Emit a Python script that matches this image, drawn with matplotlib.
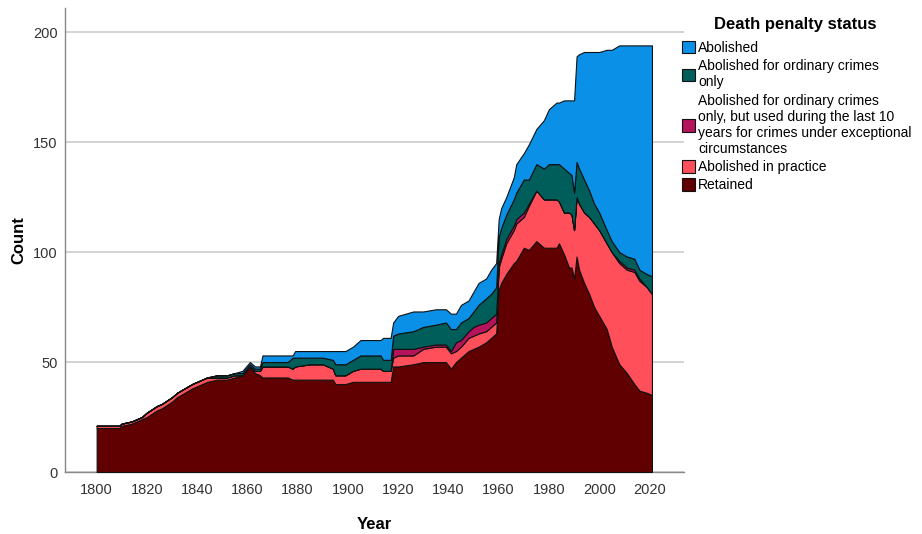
"""Stacked area chart: number of countries by death penalty status, 1800-2021."""
import matplotlib.pyplot as plt
from matplotlib.patches import Patch

plt.rcParams["font.family"] = ["Liberation Sans", "DejaVu Sans"]

years = [1800, 1809, 1810, 1814, 1818, 1820, 1824, 1826, 1830, 1832, 1838, 1840,
         1844, 1848, 1852, 1855, 1858, 1861, 1863, 1865, 1866, 1876, 1878, 1879,
         1885, 1890, 1894, 1895, 1899, 1902, 1905, 1913, 1914, 1917, 1918, 1920,
         1926, 1930, 1935, 1939, 1941, 1943, 1945, 1948, 1950, 1952, 1955, 1957,
         1959, 1960, 1961, 1963, 1966, 1967, 1970, 1972, 1975, 1978, 1980, 1983,
         1984, 1986, 1988, 1989, 1990, 1991, 1992, 1994, 1996, 1998, 2000, 2003,
         2005, 2008, 2011, 2014, 2016, 2019, 2021]

retained = [20, 20, 21, 22, 24, 25, 28, 29, 32, 34, 38, 39,
            41, 42, 42, 43, 44, 48, 45, 44, 43, 43, 42, 42,
            42, 42, 42, 40, 40, 41, 41, 41, 41, 41, 48, 48,
            49, 50, 50, 50, 47, 50, 52, 55, 56, 57, 59, 61,
            63, 83, 86, 90, 95, 96, 102, 101, 105, 102, 102, 102,
            104, 99, 93, 93, 88, 98, 92, 86, 81, 75, 71, 65,
            57, 49, 45, 40, 37, 36, 35]

in_practice = [1, 1, 1, 1, 1, 2, 2, 2, 2, 2, 2, 2,
               2, 1, 1, 1, 0, 0, 1, 2, 5, 5, 5, 6,
               7, 7, 5, 4, 4, 5, 6, 6, 5, 5, 4, 5,
               4, 6, 7, 7, 7, 5, 5, 6, 6, 6, 5, 5,
               5, 10, 11, 14, 15, 17, 14, 20, 23, 22, 22, 22,
               19, 19, 25, 24, 22, 27, 30, 32, 35, 38, 39, 39,
               43, 46, 47, 51, 50, 48, 46]

exceptional = [0, 0, 0, 0, 0, 0, 0, 0, 0, 0, 0, 0,
               0, 0, 0, 0, 0, 0, 0, 0, 0, 0, 0, 0,
               0, 0, 0, 0, 0, 0, 0, 0, 0, 0, 4, 3,
               3, 1, 1, 1, 1, 4, 3, 3, 4, 4, 4, 4,
               4, 2, 2, 2, 2, 2, 2, 1, 0, 0, 0, 0,
               0, 0, 0, 0, 0, 0, 0, 0, 0, 0, 0, 0,
               0, 1, 1, 1, 1, 0, 0]

ordinary = [0, 0, 0, 0, 0, 0, 0, 0, 0, 0, 0, 0,
            0, 1, 1, 1, 1, 1, 1, 1, 2, 2, 5, 4,
            3, 3, 4, 5, 5, 5, 6, 6, 5, 5, 6, 7,
            8, 9, 9, 10, 10, 6, 8, 6, 7, 9, 11, 11,
            12, 12, 12, 11, 12, 12, 15, 11, 12, 14, 16, 16,
            17, 20, 18, 18, 17, 16, 16, 15, 12, 9, 8, 6,
            5, 4, 5, 5, 4, 6, 8]

abolished = [0, 0, 0, 0, 0, 0, 0, 0, 0, 0, 0, 0,
             0, 0, 0, 0, 1, 1, 1, 1, 3, 3, 1, 3,
             3, 3, 4, 6, 6, 6, 7, 7, 10, 10, 6, 8,
             9, 7, 7, 6, 7, 7, 8, 8, 9, 10, 9, 11,
             11, 8, 9, 8, 10, 13, 12, 16, 16, 22, 25, 28,
             28, 31, 33, 34, 42, 48, 52, 58, 63, 69, 73, 82,
             87, 94, 96, 97, 102, 104, 105]

labels = [
    "Retained",
    "Abolished in practice",
    "Abolished for ordinary crimes\nonly, but used during the last 10\n"
    "years for crimes under exceptional\ncircumstances",
    "Abolished for ordinary crimes\nonly",
    "Abolished",
]
colors = ["#600000", "#ff4f5a", "#b5135a", "#005e5a", "#0a90e6"]

fig = plt.figure(figsize=(9.22, 5.34), dpi=100)
ax = fig.add_axes([0.0702, 0.1161, 0.6718, 0.8689])

ax.stackplot(years, retained, in_practice, exceptional, ordinary, abolished,
             colors=colors, edgecolor="#111111", linewidth=0.8, zorder=3)

ax.set_xlim(1787.3, 2033.8)
ax.set_ylim(0, 211)
ax.set_xticks(range(1800, 2021, 20))
ax.set_yticks([0, 50, 100, 150, 200])
ax.yaxis.grid(True, color="#d0d0d0", linewidth=1.3, zorder=0)
ax.set_axisbelow(True)
ax.tick_params(length=0, labelsize=10.5, labelcolor="#333333")
ax.tick_params(axis="x", pad=8)
ax.tick_params(axis="y", pad=5)
for side in ("top", "right"):
    ax.spines[side].set_visible(False)
for side in ("left", "bottom"):
    ax.spines[side].set_color("#888888")
    ax.spines[side].set_linewidth(1.0)

ax.set_xlabel("Year", fontsize=12, fontweight="bold", labelpad=14)
ax.set_ylabel("Count", fontsize=12, fontweight="bold", labelpad=5)

# legend title drawn separately so the gap under it matches the original
fig.text(795 / 922, 1 - 25 / 534, "Death penalty status", ha="center", va="center",
         fontsize=12, fontweight="bold")
handles = [Patch(facecolor=c, edgecolor="#111111", linewidth=0.8) for c in colors]
fig.legend(handles[::-1], labels[::-1], loc="upper left",
           bbox_to_anchor=(682 / 922, 1 - 41 / 534), frameon=False, fontsize=10,
           handlelength=0.95, handleheight=1.0, handletextpad=0.2,
           labelspacing=0.3, borderaxespad=0, borderpad=0)

fig.savefig("out.png", dpi=100)
